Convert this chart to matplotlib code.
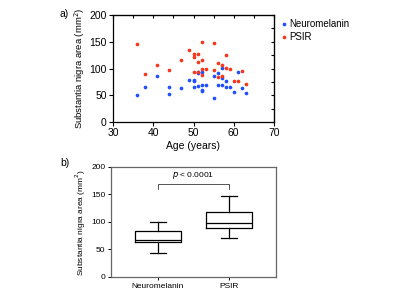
import matplotlib.pyplot as plt
from matplotlib.ticker import MultipleLocator

plt.rcParams['font.family'] = ['Liberation Sans', 'DejaVu Sans']

# scatter data (age, area)
nm_age = [36, 38, 41, 44, 44, 47, 49, 50, 50, 50, 51, 51, 51, 52, 52, 52, 52, 53,
          55, 55, 56, 56, 57, 57, 57, 58, 58, 59, 60, 61, 62, 63]
nm_area = [50.5, 65, 86.6, 66, 53, 63.5, 79, 79, 77, 66, 67, 93, 91, 93, 69, 60, 58, 69,
           87, 45.4, 92, 68.5, 101.5, 81.6, 68.5, 77, 65, 65, 55.5, 94, 63.5, 53.6]
psir_age = [36, 38, 41, 44, 47, 49, 50, 50, 50, 51, 51, 51, 52, 52, 52, 52, 53,
            55, 55, 56, 56, 57, 57, 58, 58, 59, 60, 61, 62, 63]
psir_area = [145.8, 89, 106, 97.8, 116.5, 135, 126.5, 121, 93.5, 127, 112.7, 93, 149, 116, 98.5, 88.5, 98.5,
             148, 96.6, 110, 84.7, 106.5, 86, 125, 101, 98.5, 76.6, 76, 96, 72]

# box plot summary: whislo, q1, med, q3, whishi
groups = ['Neuromelanin', 'PSIR']
whislo = [44, 70.4]
q1 = [63, 88.5]
med = [67, 98]
q3 = [83.6, 117.6]
whishi = [100, 146.7]

blue = '#1f4fff'
red = '#f5371c'

fig = plt.figure(figsize=(4, 3), dpi=100)

# ---- a) scatter
ax1 = fig.add_axes([0.2825, 0.593, 0.4025, 0.357])
ax1.scatter(nm_age, nm_area, s=7, marker='o', color=blue, lw=0, label='Neuromelanin')
ax1.scatter(psir_age, psir_area, s=7, marker='o', color=red, lw=0, label='PSIR')
ax1.set_xlim(30, 70)
ax1.set_ylim(0, 200)
ax1.set_xticks([30, 40, 50, 60, 70])
ax1.set_yticks([0, 50, 100, 150, 200])
ax1.tick_params(labelsize=7.5, length=3, width=0.8, direction='out', pad=1.5)
ax1.set_xlabel('Age (years)', fontsize=7.5, labelpad=2)
ax1.set_ylabel('Substantia nigra area (mm$^2$)', fontsize=6.8, labelpad=2)
for sp in ax1.spines.values():
    sp.set_linewidth(0.9)
# inner ticks on top/right
tx = ax1.secondary_xaxis('top')
tx.xaxis.set_major_locator(MultipleLocator(5))
tx.tick_params(direction='in', length=2.5, width=0.8, labeltop=False)
ty = ax1.secondary_yaxis('right')
ty.yaxis.set_major_locator(MultipleLocator(25))
ty.tick_params(direction='in', length=2.5, width=0.8, labelright=False)
ax1.legend(loc='upper left', bbox_to_anchor=(1.0, 1.0), frameon=False, fontsize=7,
           handletextpad=0.0, handlelength=1.2, borderaxespad=0, labelspacing=0.3)

# ---- b) box plot
ax2 = fig.add_axes([0.2775, 0.0767, 0.4125, 0.3667])
stats = []
for i in range(2):
    stats.append({'whislo': whislo[i], 'q1': q1[i], 'med': med[i], 'q3': q3[i],
                  'whishi': whishi[i], 'label': groups[i]})
ax2.bxp(stats, positions=[1, 2], widths=0.66, showfliers=False,
        boxprops=dict(color='black', lw=0.9), medianprops=dict(color='black', lw=0.9),
        whiskerprops=dict(color='black', lw=0.9), capprops=dict(color='black', lw=0.9),
        capwidths=0.22)
ax2.set_xlim(0.338, 2.662)
ax2.set_ylim(0, 200)
ax2.set_yticks([0, 50, 100, 150, 200])
ax2.tick_params(labelsize=6, length=2.5, width=0.7, pad=1.5)
ax2.set_ylabel('Substantia nigra area (mm$^2$)', fontsize=6, labelpad=2)
for sp in ax2.spines.values():
    sp.set_color('#666666')
    sp.set_linewidth(0.9)
# significance bracket
ax2.plot([1, 1, 2, 2], [159.5, 168.5, 168.5, 159.5], color='#555555', lw=0.7)
ax2.text(1.5, 175, '$p$ < 0.0001', ha='center', va='bottom', fontsize=6)

fig.text(0.15, 0.97, 'a)', fontsize=7.5, va='top')
fig.text(0.15, 0.475, 'b)', fontsize=7.5, va='top')

fig.savefig('out.png', dpi=100)
